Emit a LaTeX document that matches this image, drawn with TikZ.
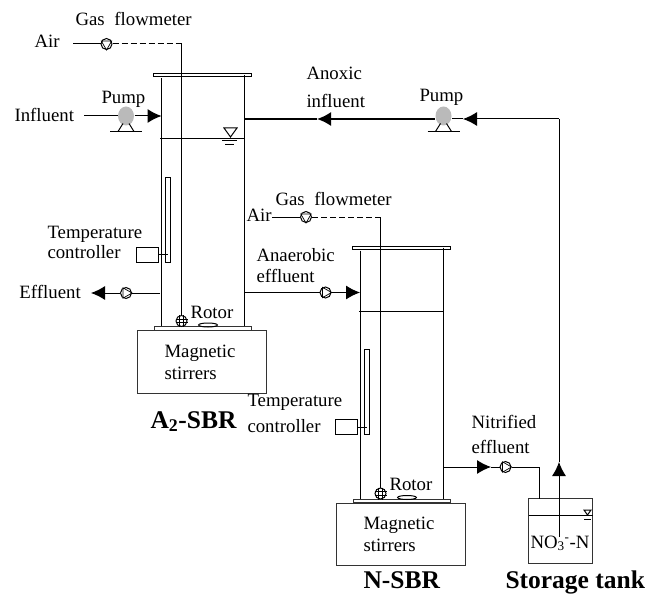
\documentclass[tikz,border=0pt]{standalone}
\usepackage{fontspec}
\setmainfont{Liberation Serif}
\usepackage{tikz}
\usetikzlibrary{arrows.meta,shapes.geometric}

\tikzset{
  lab/.style={anchor=base west, inner sep=0pt, font=\fontsize{18.8}{20}\selectfont},
  title/.style={anchor=base west, inner sep=0pt, font=\fontsize{25.5}{27}\selectfont\bfseries},
  valve/.style={circle, draw, minimum size=11pt, inner sep=0pt},
  stir/.style={circle, draw, minimum size=11pt, inner sep=0pt},
  pumpbody/.style={ellipse, fill=black!27, minimum width=16pt, minimum height=19pt, inner sep=0pt},
  flowtip/.style={-{Latex[length=14pt,width=14pt]}}
}

\begin{document}
\begin{tikzpicture}[x=1pt, y=-1pt, line width=1pt]
  \useasboundingbox (0,0) rectangle (657,594);

  % The two reactors share one drawing.
  \foreach \n/\dx/\dy in {A/0/0, N/199/172.5}{
    \begin{scope}[shift={(\dx pt,-\dy pt)}]
      \draw (161.5,78) -- (161.5,326.5);
      \draw (244.5,75) -- (244.5,326.5);
      \draw (153.5,73.5) rectangle (251,76.5);
      \draw (160,139) -- (244.5,139);
      \draw (165.5,177) rectangle (170.5,262);
      \draw[black!80] (154,326.5) rectangle (251,330);
      \draw[black!80] (137.5,330.5) rectangle (266,393);
      \node[stir] (disc\n) at (181.5,321) {};
      \foreach \s in {-1.7,1.7}{
        \draw[line width=.7pt] ([xshift=\s pt]disc\n.north) -- ([xshift=\s pt]disc\n.south);
        \draw[line width=.7pt] ([yshift=\s pt]disc\n.west) -- ([yshift=\s pt]disc\n.east);
      }
      \node[ellipse, draw, minimum width=19pt, minimum height=4pt, inner sep=0pt] (rotor\n) at (208,325) {};
      \node[lab] (rotortxt\n) at (190,318) {Rotor};
      \node[lab] (magnet\n) at (164,357) {Magnetic};
      \node[lab] (stirrer\n) at (164,379) {stirrers};
      \node[draw, minimum width=21.5pt, minimum height=15pt, inner sep=0pt] (ctrl\n) at (147.5,254.5) {};
      \draw (ctrl\n.east) -- (168,254.5);
    \end{scope}
  }

  % Texts.
  \node[lab] (gasA) at (75,26) {Gas\hspace{5pt} flowmeter};
  \node[lab] (airA) at (34,48) {Air};
  \node[lab] (pumptxtA) at (101,103) {Pump};
  \node[lab] (influent) at (14,122) {Influent};
  \node[lab] (anoxic) at (306,80) {Anoxic};
  \node[lab] (anoxicb) at (306,107) {influent};
  \node[lab] (pumptxtB) at (419,102) {Pump};
  \node[lab] (tempA) at (47,238) {Temperature};
  \node[lab] (contA) at (47,258) {controller};
  \node[lab] (effluent) at (19,298) {Effluent};
  \node[lab] (airN) at (246,221) {Air};
  \node[lab] (gasN) at (275,205) {Gas\hspace{5pt} flowmeter};
  \node[lab] (anaer) at (256,261) {Anaerobic};
  \node[lab] (anaerb) at (256,282) {effluent};
  \node[lab] (tempN) at (247,406) {Temperature};
  \node[lab] (contN) at (247,432) {controller};
  \node[lab] (nitri) at (471,428) {Nitrified};
  \node[lab] (nitrib) at (471,453) {effluent};
  \node[lab] (nitrate) at (530,548) {NO\textsubscript{3}\textsuperscript{-}-N};
  \node[title] (sbrA) at (150,428) {A\textsubscript{2}-SBR};
  \node[title] (sbrN) at (363,588) {N-SBR};
  \node[title] (storage) at (505,588) {Storage tank};

  % Flowmeters and valves.
  \foreach \n/\x/\y/\r in {
    fmA/106.5/44/-90,
    fmN/306/217/-90,
    vEff/126/293/0,
    vAna/325.5/292.5/0,
    vNit/505.5/467/0
  }{
    \pgfmathsetmacro{\rb}{\r+120}
    \pgfmathsetmacro{\rc}{\r+240}
    \node[valve] (\n) at (\x,\y) {};
    \draw[line width=.7pt] (\n.\r) -- (\n.\rb) -- (\n.\rc) -- cycle;
  }

  % Pumps.
  \foreach \n/\x/\y in {pumpA/126/116, pumpB/443.5/116}{
    \node[pumpbody] (\n) at (\x,\y) {};
    \coordinate (\n base) at (\x,\y+15.5);
    \draw ([xshift=-8pt]\n base) -- ([xshift=-3pt,yshift=8pt]\n base);
    \draw ([xshift=8pt]\n base) -- ([xshift=3pt,yshift=8pt]\n base);
    \draw[line width=1.5pt] ([xshift=-16pt]\n base) -- ([xshift=16pt]\n base);
  }

  % Storage tank.
  \draw[black!80] (528.5,498.5) rectangle (592.5,563.5);
  \draw (528.5,515) -- (592.5,515);

  % Water level marks.
  \draw (224,128) -- (237,128) -- (230.5,137) -- cycle;
  \draw (222,141) -- (237,141);
  \draw (225,145) -- (234,145);
  \draw (584,510) -- (591,510) -- (587.5,515) -- cycle;
  \draw (584,519) -- (591,519);

  % Free ends of the lines.
  \coordinate (airAend) at (73,44);
  \coordinate (cornerA) at (181.5,44);
  \coordinate (airNend) at (272,217);
  \coordinate (cornerN) at (380.5,217);
  \coordinate (infstart) at (84,116);
  \coordinate (wallinf) at (161.5,116);
  \coordinate (walleff) at (160,293);
  \coordinate (efftip) at (91,293);
  \coordinate (wallana) at (244.5,292.5);
  \coordinate (anatip) at (360,292.5);
  \coordinate (wallanox) at (244.5,119);
  \coordinate (anoxtip) at (317,119);
  \coordinate (returntip) at (463,119);
  \coordinate (returncorner) at (559,119);
  \coordinate (tankpipe) at (559,537);
  \coordinate (risetip) at (559,462);
  \coordinate (wallnit) at (443.5,467);
  \coordinate (nittip) at (491,467);
  \coordinate (nitcorner) at (539,467);
  \coordinate (tanktop) at (539,498.5);

  % Connectors.
  \draw (airAend) -- (fmA);
  \draw[dashed, dash pattern=on 6pt off 3pt] (fmA) -- (cornerA);
  \draw (cornerA) -- (discA);
  \draw (airNend) -- (fmN);
  \draw[dashed, dash pattern=on 6pt off 3pt] (fmN) -- (cornerN);
  \draw (cornerN) -- (discN);
  \draw (infstart) -- (pumpA);
  \draw[flowtip] (pumpA) -- (wallinf);
  \draw (walleff) -- (vEff);
  \draw[flowtip] (vEff) -- (efftip);
  \draw (wallana) -- (vAna);
  \draw[flowtip] (vAna) -- (anatip);
  \draw[line width=1.8pt] (wallanox) -- (anoxtip);
  \draw[line width=1.8pt, flowtip] (pumpB.west |- anoxtip) -- (anoxtip);
  \draw (returntip) -- (pumpB.east |- returntip);
  \draw[flowtip] (returncorner) -- (returntip);
  \draw[flowtip] (tankpipe) -- (risetip);
  \draw (risetip) -- (returncorner);
  \draw[flowtip] (wallnit) -- (nittip);
  \draw (nittip) -- (vNit);
  \draw (vNit) -- (nitcorner) -- (tanktop);
\end{tikzpicture}
\end{document}
